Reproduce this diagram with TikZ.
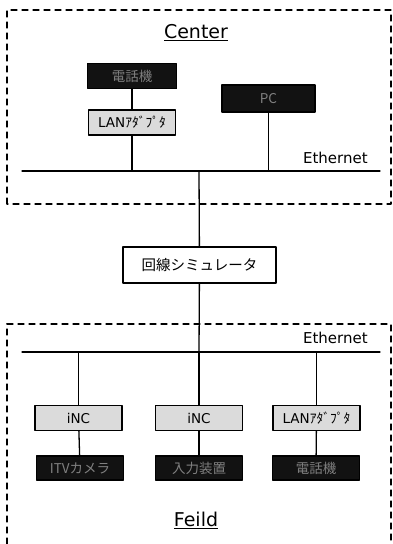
\documentclass[tikz,border=0pt]{standalone}
\usepackage{fontspec}
\setmainfont{DejaVu Sans}
\newfontfamily\jp{Noto Sans CJK JP}
\usetikzlibrary{positioning}

\begin{document}
\begin{tikzpicture}[x=1pt,y=-1pt,line cap=round,line join=round,every node/.style={inner sep=1.1pt},
    litebox/.style={draw,line width=1.2pt,fill=black!14,minimum width=87pt,minimum height=25pt,font=\fontsize{13.5}{14}\selectfont},
    darkbox/.style={draw,line width=1.2pt,fill=black!93,text=black!50,minimum width=87pt,minimum height=25pt,font=\jp\fontsize{13.5}{14}\selectfont},
    wire/.style={line width=1.3pt},
    zone/.style={line width=1.3pt,dash pattern=on 6pt off 5pt},
    ethlabel/.style={anchor=base east,font=\fontsize{15}{15}\selectfont}]
  \useasboundingbox (0,0) rectangle (393,544);
  % Center
  \draw[zone] (7,204) -- (7,10) -- (391,10) -- (391,204) -- cycle;
  \node[font=\fontsize{19}{19}\selectfont] (center) at (196,33) {\underline{Center}};
  \node[darkbox,minimum width=89pt] (tel1) at (132,76) {電話機};
  \node[litebox] (lan1) at (132,122.5) {LAN{\jp ｱﾀﾞﾌﾟﾀ}};
  \node[darkbox,minimum width=93pt,minimum height=27pt] (pc) at (268.5,98.5) {PC};
  \coordinate (eth1w) at (22,171);
  \coordinate (eth1e) at (380,171);
  \draw[wire] (eth1w) -- (eth1e);
  \node[ethlabel] (eth1lab) at (369,163) {Ethernet};
  \draw[wire] (tel1) -- (lan1);
  \draw[wire] (lan1) -- (lan1 |- eth1w);
  \draw[wire] (pc) -- (pc |- eth1w);
  % line simulator
  \node[draw,line width=1.2pt,fill=white,minimum width=153pt,minimum height=36pt,font=\jp\fontsize{14.5}{15}\selectfont] (sim) at (199.5,265) {回線シミュレータ};
  \coordinate (trunk1) at (199,171);
  \coordinate (trunk2) at (199,352);
  \draw[wire] (trunk1) -- (sim);
  \draw[wire] (sim) -- (trunk2);
  % Feild
  \draw[zone] (7,544) -- (7,324) -- (391,324) -- (391,544);
  \coordinate (eth2w) at (22,352);
  \coordinate (eth2e) at (380,352);
  \draw[wire] (eth2w) -- (eth2e);
  \node[ethlabel] (eth2lab) at (369,343) {Ethernet};
  \node[litebox] (inc1) at (78.5,418) {iNC};
  \node[litebox] (inc2) at (199,418) {iNC};
  \node[litebox] (lan2) at (316.5,418) {LAN{\jp ｱﾀﾞﾌﾟﾀ}};
  \node[darkbox,minimum height=24pt] (itv) at (80,468) {ITVカメラ};
  \node[darkbox,minimum height=24pt] (input) at (199,468) {入力装置};
  \node[darkbox,minimum height=24pt] (tel2) at (316,468) {電話機};
  \foreach \b/\d in {inc1/itv,inc2/input,lan2/tel2} {
    \draw[wire] (\b |- eth2w) -- (\b);
    \draw[wire] (\b) -- (\d);
  }
  \node[font=\fontsize{19}{19}\selectfont] (field) at (196,520) {\underline{Feild}};
\end{tikzpicture}
\end{document}
